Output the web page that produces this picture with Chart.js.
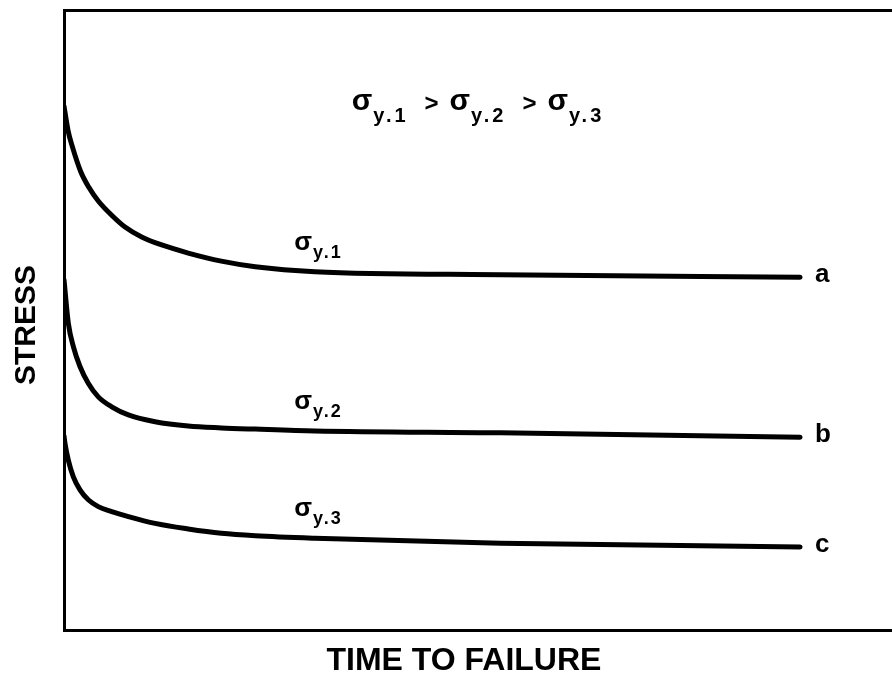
<!DOCTYPE html>
<html>
<head>
<meta charset="utf-8">
<title>Stress vs time to failure</title>
<script src="https://cdn.jsdelivr.net/npm/chart.js@4/dist/chart.umd.min.js"></script>
<style>
  html, body { margin: 0; padding: 0; background: #fff; }
  #wrap { width: 892px; height: 677px; }
</style>
</head>
<body>
<div id="wrap"><canvas id="stressChart" width="892" height="677"></canvas></div>
<script>
// time to failure (arbitrary units 0-100) and stress (arbitrary units 0-100)
const timeA   = [0, 0.5, 1.0, 2.0, 3.0, 4.14, 5.76, 7.37, 9.38, 11.8, 15.0, 19.0, 23.1, 30.3, 52.7, 88.9];
const stressA = [84.5, 80.5, 78.0, 74.0, 71.4, 69.2, 66.9, 65.0, 63.4, 62.1, 60.8, 59.5, 58.6, 57.8, 57.3, 56.9];

const timeB   = [0, 0.52, 1.13, 1.93, 2.93, 4.14, 5.76, 7.77, 11.0, 15.0, 19.0, 23.1, 30.3, 52.7, 88.9];
const stressB = [56.5, 49.5, 45.7, 42.5, 39.8, 37.6, 36.0, 34.7, 33.6, 32.9, 32.6, 32.4, 32.1, 31.8, 31.1];

const timeC   = [0, 0.12, 0.52, 1.13, 1.93, 2.93, 4.14, 5.76, 7.77, 11.0, 15.0, 19.0, 23.1, 30.3, 52.7, 88.9];
const stressC = [31.3, 30.1, 27.4, 24.7, 22.6, 21.0, 19.9, 19.1, 18.3, 17.2, 16.3, 15.6, 15.2, 14.8, 14.0, 13.4];

const curveNames = ['a', 'b', 'c'];
const yieldSubs = ['y.1', 'y.2', 'y.3'];

function toPoints(xs, ys) {
    return xs.map((x, i) => ({ x: x, y: ys[i] }));
}

const FONT = "'Liberation Sans', Arial, sans-serif";

// draws sigma with a subscript, returns the x where it ends
function drawSigma(ctx, x, y, sub, bigSize, smallSize, drop, spacing) {
    ctx.font = 'bold ' + bigSize + 'px ' + FONT;
    ctx.textAlign = 'left';
    ctx.textBaseline = 'alphabetic';
    ctx.letterSpacing = '0px';
    ctx.fillText('σ', x, y);
    const w = ctx.measureText('σ').width;
    ctx.font = 'bold ' + smallSize + 'px ' + FONT;
    ctx.letterSpacing = spacing + 'px';
    ctx.fillText(sub, x + w + 1, y + drop);
    const end = x + w + 1 + ctx.measureText(sub).width;
    ctx.letterSpacing = '0px';
    return end;
}

const textPlugin = {
    id: 'textPlugin',
    afterDraw(chart) {
        const ctx = chart.ctx;
        const xs = chart.scales.x;
        const ys = chart.scales.y;
        const area = chart.chartArea;
        ctx.save();
        ctx.fillStyle = '#000';

        // axis titles
        ctx.font = 'bold 32px ' + FONT;
        ctx.textAlign = 'center';
        ctx.textBaseline = 'middle';
        ctx.fillText('TIME TO FAILURE', xs.getPixelForValue(48.3), 661);

        ctx.save();
        ctx.translate(27, ys.getPixelForValue(49.2));
        ctx.rotate(-Math.PI / 2);
        ctx.font = 'bold 30px ' + FONT;
        ctx.fillText('STRESS', 0, 0);
        ctx.restore();

        // curve end labels a, b, c and sigma labels above each curve
        chart.data.datasets.forEach((ds, i) => {
            const last = ds.data[ds.data.length - 1];
            ctx.font = 'bold 26px ' + FONT;
            ctx.textAlign = 'left';
            ctx.textBaseline = 'middle';
            ctx.fillText(curveNames[i], xs.getPixelForValue(last.x) + 15, ys.getPixelForValue(last.y) - 2);

            const ref = ds.data.find(p => p.x >= 30);
            drawSigma(ctx, xs.getPixelForValue(27.8), ys.getPixelForValue(ref.y) - 22, yieldSubs[i], 26, 18, 8, 2);
        });

        // relation at the top
        const subSpacing = 3;
        ctx.font = 'bold 30px ' + FONT;
        const sigW = ctx.measureText('σ').width;
        ctx.font = 'bold 20px ' + FONT;
        ctx.letterSpacing = subSpacing + 'px';
        const subW = yieldSubs.map(s => ctx.measureText(s).width);
        ctx.letterSpacing = '0px';
        ctx.font = 'bold 24px ' + FONT;
        const gtW = ctx.measureText('>').width;
        const gapL = 16, gapR = 11;
        let total = 0;
        subW.forEach((w, i) => { total += sigW + 1 + w; if (i < 2) total += gapL + gapR + gtW; });
        let x = (area.left + area.right) / 2 - total / 2;
        const baseY = ys.getPixelForValue(83.9);
        yieldSubs.forEach((s, i) => {
            x = drawSigma(ctx, x, baseY, s, 30, 20, 12, subSpacing);
            if (i < 2) {
                ctx.font = 'bold 24px ' + FONT;
                ctx.textAlign = 'left';
                ctx.textBaseline = 'alphabetic';
                ctx.fillText('>', x + gapL, baseY + 1);
                x += gapL + gapR + gtW;
            }
        });
        ctx.restore();
    }
};

function lineDataset(label, xs, ys) {
    return {
        label: label,
        data: toPoints(xs, ys),
        showLine: true,
        borderColor: '#000',
        backgroundColor: '#000',
        borderWidth: 5,
        pointRadius: 0,
        cubicInterpolationMode: 'monotone',
        borderCapStyle: 'round',
        borderJoinStyle: 'round'
    };
}

new Chart(document.getElementById('stressChart'), {
    type: 'scatter',
    data: {
        datasets: [
            lineDataset('a', timeA, stressA),
            lineDataset('b', timeB, stressB),
            lineDataset('c', timeC, stressC)
        ]
    },
    options: {
        responsive: false,
        animation: false,
        layout: { padding: 0 },
        plugins: {
            legend: { display: false },
            tooltip: { enabled: false }
        },
        scales: {
            x: {
                type: 'linear',
                position: 'bottom',
                min: 0,
                max: 100,
                grid: { display: false },
                ticks: { display: false },
                border: { display: true, color: '#000', width: 3 },
                afterFit(scale) { scale.height = 47; }
            },
            x2: {
                type: 'linear',
                position: 'top',
                min: 0,
                max: 100,
                grid: { display: false },
                ticks: { display: false },
                border: { display: true, color: '#000', width: 3 },
                afterFit(scale) { scale.height = 10; }
            },
            y: {
                type: 'linear',
                min: 0,
                max: 100,
                grid: { display: false },
                ticks: { display: false },
                border: { display: true, color: '#000', width: 3 },
                afterFit(scale) { scale.width = 64; }
            }
        }
    },
    plugins: [textPlugin]
});
</script>
</body>
</html>
